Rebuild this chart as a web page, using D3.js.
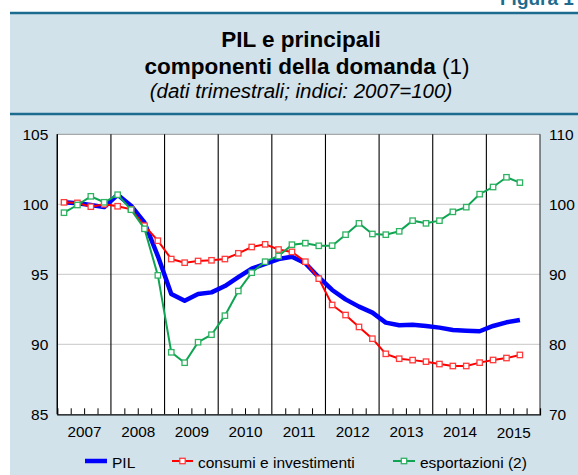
<!DOCTYPE html>
<html>
<head>
<meta charset="utf-8">
<script src="https://cdn.jsdelivr.net/npm/d3@7"></script>
<style>
  body { margin: 0; background: #fff; }
  svg { display: block; font-family: "Liberation Sans", Arial, Helvetica, sans-serif; }
</style>
</head>
<body>
<div id="chart"></div>
<script>
// quarterly data, 2007 Q1 -> 2015 Q3
const startYear = 2007;
const years = [2007, 2008, 2009, 2010, 2011, 2012, 2013, 2014, 2015];
const pil = [100.14, 100.07, 99.95, 99.8, 100.68, 99.9, 98.7, 96.3, 93.6, 93.11, 93.59, 93.71,
    94.16, 94.79, 95.4, 95.74, 96.09, 96.26, 95.79, 94.79, 93.88, 93.21, 92.69, 92.26,
    91.55, 91.36, 91.4, 91.31, 91.19, 91.02, 90.97, 90.93, 91.31, 91.57, 91.74];
const consumi = [100.14, 100.1, 99.83, 100.0, 99.86, 99.64, 98.47, 97.4, 96.09, 95.83, 95.95, 96.0,
    96.09, 96.5, 96.95, 97.14, 96.77, 96.6, 95.9, 94.69, 92.81, 92.09, 91.24, 90.4,
    89.32, 88.97, 88.87, 88.76, 88.59, 88.45, 88.45, 88.69, 88.88, 89.02, 89.24];
// esportazioni on the right scale
const esportazioni = [98.8, 99.9, 101.14, 100.29, 101.37, 99.23, 96.5, 89.85, 78.86, 77.37, 80.3, 81.37,
    84.09, 87.61, 90.23, 91.8, 92.61, 94.23, 94.45, 94.07, 94.09, 95.66, 97.28, 95.76,
    95.66, 96.14, 97.66, 97.28, 97.66, 98.92, 99.59, 101.45, 102.47, 103.86, 103.1];
const leftTicks = [85, 90, 95, 100, 105];
const rightTicks = [70, 80, 90, 100, 110];
const gridTicks = [90, 95, 100];

const width = 578, height = 475;
const teal = '#1d6b8e', panel = '#d1e2eb';
const blue = '#0000ff', red = '#ff0000', green = '#0ea452';

const svg = d3.select('#chart')
    .append('svg')
    .attr('width', width)
    .attr('height', height);

// header + panel
svg.append('text')
    .attr('x', 500).attr('y', 5)
    .attr('font-size', 19).attr('font-weight', 'bold')
    .attr('fill', teal)
    .text('Figura 1');

svg.append('rect')
    .attr('x', 10).attr('y', 13)
    .attr('width', width - 10).attr('height', height - 13)
    .attr('fill', panel);

[13, 114].forEach(y => {
    svg.append('line')
        .attr('x1', 10).attr('x2', width)
        .attr('y1', y).attr('y2', y)
        .attr('stroke', teal).attr('stroke-width', 2.5);
});

const title = svg.append('text')
    .attr('text-anchor', 'middle')
    .attr('fill', '#000');
title.append('tspan')
    .attr('x', 301).attr('y', 47)
    .attr('font-size', 22.5).attr('font-weight', 'bold')
    .text('PIL e principali');
const t2 = title.append('tspan')
    .attr('x', 307).attr('y', 73.5)
    .attr('font-size', 22.5);
t2.append('tspan').attr('font-weight', 'bold').text('componenti della domanda ');
t2.append('tspan').text('(1)');
title.append('tspan')
    .attr('x', 301).attr('y', 97.5)
    .attr('font-size', 20.5).attr('font-style', 'italic')
    .text('(dati trimestrali; indici: 2007=100)');

// plot area
const margin = { top: 134.3, left: 57.3, right: 540, bottom: 414.3 };

const x = d3.scaleLinear()
    .domain([startYear, 2016])
    .range([margin.left, margin.right]);
const yL = d3.scaleLinear()
    .domain([85, 105])
    .range([margin.bottom, margin.top]);
const yR = d3.scaleLinear()
    .domain([70, 110])
    .range([margin.bottom, margin.top]);

const qx = i => x(startYear + (i + 0.5) / 4);

svg.append('rect')
    .attr('x', margin.left).attr('y', margin.top)
    .attr('width', margin.right - margin.left)
    .attr('height', margin.bottom - margin.top)
    .attr('fill', '#fff');

// grid
svg.append('g')
    .selectAll('line')
    .data(gridTicks)
    .join('line')
    .attr('x1', margin.left).attr('x2', margin.right)
    .attr('y1', d => yL(d)).attr('y2', d => yL(d))
    .attr('stroke', '#d2d2d2').attr('stroke-width', 1.2);

svg.append('line')
    .attr('x1', margin.left).attr('x2', margin.right)
    .attr('y1', margin.top).attr('y2', margin.top)
    .attr('stroke', '#a8a8a8').attr('stroke-width', 1.2);

// year separators
svg.append('g')
    .selectAll('line')
    .data(years.concat([2016]))
    .join('line')
    .attr('x1', d => x(d)).attr('x2', d => x(d))
    .attr('y1', margin.top).attr('y2', margin.bottom)
    .attr('stroke', d => d === 2016 ? '#333' : '#000')
    .attr('stroke-width', 1.1);

// quarter ticks on bottom axis
const quarters = d3.range(startYear, 2016, 0.25).filter(d => d % 1 !== 0);
const xAxisGroup = svg.append('g')
    .attr('transform', `translate(0, ${ margin.bottom })`)
    .call(d3.axisBottom(x).tickValues(quarters).tickSize(-6).tickFormat(''));
xAxisGroup.selectAll('line').attr('stroke', '#000');
xAxisGroup.select('path.domain').attr('stroke', '#000').attr('stroke-width', 1.2);

const yearAxis = svg.append('g')
    .attr('transform', `translate(0, ${ margin.bottom })`)
    .call(d3.axisBottom(x).tickValues(years.map(d => d + 0.5)).tickSize(0).tickPadding(11.5)
        .tickFormat(d => Math.floor(d)));
yearAxis.select('path.domain').remove();
yearAxis.selectAll('text')
    .attr('font-size', 15.3).attr('fill', '#000')
    .attr('font-family', 'inherit')
    .attr('transform', d => d > 2015 ? 'translate(0,1)' : null);

// y axes
const leftAxis = svg.append('g')
    .attr('transform', `translate(${ margin.left }, 0)`)
    .call(d3.axisLeft(yL).tickValues(leftTicks).tickSize(0).tickPadding(9));
const rightAxis = svg.append('g')
    .attr('transform', `translate(${ margin.right }, 0)`)
    .call(d3.axisRight(yR).tickValues(rightTicks).tickSize(0).tickPadding(9));
[leftAxis, rightAxis].forEach(g => {
    g.select('path.domain').remove();
    g.selectAll('text')
        .attr('font-size', 15.5).attr('fill', '#000')
        .attr('font-family', 'inherit');
});
svg.append('line')
    .attr('x1', margin.left).attr('x2', margin.left)
    .attr('y1', margin.top).attr('y2', margin.bottom)
    .attr('stroke', '#000').attr('stroke-width', 1.2);

// series
const lineL = d3.line().x((d, i) => qx(i)).y(d => yL(d));
const lineR = d3.line().x((d, i) => qx(i)).y(d => yR(d));

svg.append('path')
    .datum(pil)
    .attr('d', lineL)
    .attr('fill', 'none')
    .attr('stroke', blue).attr('stroke-width', 4.5)
    .attr('stroke-linejoin', 'round');

function markerSeries(data, line, yScale, color, markColor) {
    const g = svg.append('g');
    g.append('path')
        .datum(data)
        .attr('d', line)
        .attr('fill', 'none')
        .attr('stroke', color).attr('stroke-width', 2);
    g.selectAll('rect')
        .data(data)
        .join('rect')
        .attr('x', (d, i) => qx(i) - 2.7)
        .attr('y', d => yScale(d) - 2.7)
        .attr('width', 5.4).attr('height', 5.4)
        .attr('fill', '#fff')
        .attr('stroke', markColor).attr('stroke-width', 1.3);
}
markerSeries(consumi, lineL, yL, red, '#ff3b3b');
markerSeries(esportazioni, lineR, yR, green, '#2fb262');

// legend
const legend = svg.append('g').attr('transform', 'translate(0, 461)');
const items = [
    { label: 'PIL', color: blue, x0: 85, w: 22, thick: 4.5, mark: false },
    { label: 'consumi e investimenti', color: red, x0: 172, w: 21, thick: 2, mark: '#ff3b3b' },
    { label: 'esportazioni (2)', color: green, x0: 393, w: 22, thick: 2, mark: '#2fb262' }
];
items.forEach(it => {
    legend.append('line')
        .attr('x1', it.x0).attr('x2', it.x0 + it.w)
        .attr('stroke', it.color).attr('stroke-width', it.thick);
    if (it.mark) {
        legend.append('rect')
            .attr('x', it.x0 + it.w / 2 - 2.7).attr('y', -2.7)
            .attr('width', 5.4).attr('height', 5.4)
            .attr('fill', '#fff')
            .attr('stroke', it.mark).attr('stroke-width', 1.3);
    }
    legend.append('text')
        .attr('x', it.x0 + it.w + 5).attr('y', 6.5)
        .attr('font-size', 15.5)
        .text(it.label);
});
</script>
</body>
</html>
